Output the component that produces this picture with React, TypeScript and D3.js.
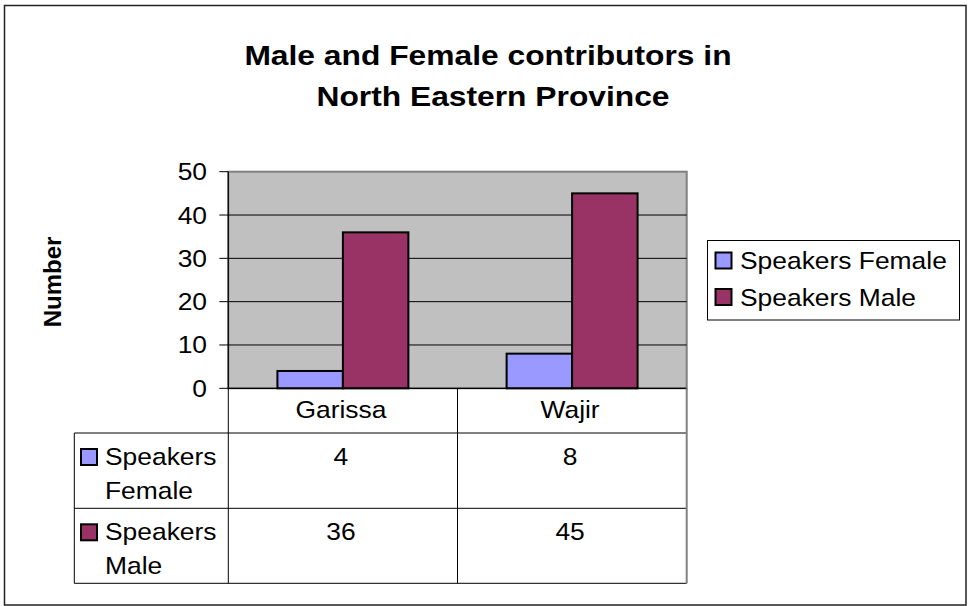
import React from "react";
import * as d3 from "d3";

const categories = ["Garissa", "Wajir"];
const seriesNames = ["Speakers Female", "Speakers Male"];
const seriesTableLines = [["Speakers", "Female"], ["Speakers", "Male"]];
const femaleValues = [4, 8];
const maleValues = [36, 45];
const seriesColors = ["#9999FF", "#993366"];
const yTicks = [0, 10, 20, 30, 40, 50];
const titleLines = ["Male and Female contributors in", "North Eastern Province"];
const yAxisTitle = "Number";

const W = 968;
const H = 606;
const FONT = "'Liberation Sans', Arial, Helvetica, sans-serif";
const SX = 1.1;

type TProps = {
  x: number;
  y: number;
  size: number;
  anchor?: "start" | "middle" | "end";
  bold?: boolean;
  sx?: number;
  children: React.ReactNode;
};

function T({ x, y, size, anchor = "start", bold = false, sx = SX, children }: TProps) {
  return (
    <text
      transform={`translate(${x},${y}) scale(${sx},1)`}
      textAnchor={anchor}
      fontSize={size}
      fontWeight={bold ? "bold" : "normal"}
      fill="#000"
    >
      {children}
    </text>
  );
}

export default function App() {
  const plotL = 228.3, plotR = 686.7, plotT = 171.7, plotB = 388.3;
  const x = d3.scaleBand<string>().domain(categories).range([plotL, plotR]).padding(0);
  const x1 = d3
    .scaleBand<string>()
    .domain(seriesNames)
    .range([0, x.bandwidth()])
    .paddingInner(0)
    .paddingOuter(0.75);
  const y = d3.scaleLinear().domain([0, 50]).range([plotB, plotT]);
  const seriesValues = [femaleValues, maleValues];

  const tableL = 74.3;
  const rowLines = [plotB, 433, 508.3, 583.3];

  return (
    <svg
      width={W}
      height={H}
      style={{ position: "absolute", left: 0, top: 0, background: "#fff" }}
      fontFamily={FONT}
    >
      <rect x={0} y={0} width={W} height={H} fill="#fff" />
      <rect x={4.5} y={5.5} width={961.5} height={599.5} fill="none" stroke="#222" strokeWidth={1.5} />

      {/* title */}
      <T x={488} y={65} size={28} bold anchor="middle" sx={1.135}>{titleLines[0]}</T>
      <T x={493} y={106} size={28} bold anchor="middle" sx={1.135}>{titleLines[1]}</T>

      {/* plot area */}
      <rect x={plotL} y={plotT} width={plotR - plotL} height={plotB - plotT} fill="#C0C0C0" stroke="#808080" strokeWidth={2} />
      {yTicks
        .filter((t) => t > 0 && t < 50)
        .map((t) => (
          <line key={t} x1={plotL} x2={plotR} y1={y(t)} y2={y(t)} stroke="#000" strokeWidth={1} />
        ))}

      {/* bars */}
      {categories.map((c, ci) =>
        seriesNames.map((s, si) => {
          const v = seriesValues[si][ci];
          const bx = (x(c) as number) + (x1(s) as number);
          return (
            <rect
              key={c + s}
              x={bx}
              y={y(v)}
              width={x1.bandwidth()}
              height={y(0) - y(v)}
              fill={seriesColors[si]}
              stroke="#000"
              strokeWidth={2}
            />
          );
        })
      )}

      {/* y axis */}
      <line x1={plotL} x2={plotL} y1={plotT} y2={plotB} stroke="#000" strokeWidth={1.2} />
      {yTicks.map((t) => (
        <g key={t}>
          <line x1={plotL - 9} x2={plotL} y1={y(t)} y2={y(t)} stroke="#000" strokeWidth={1} />
          <T x={207} y={y(t) + 8.5} size={24} anchor="end">{t}</T>
        </g>
      ))}
      <line x1={plotL} x2={plotR} y1={plotB} y2={plotB} stroke="#000" strokeWidth={1.2} />

      {/* y axis title */}
      <text
        transform={`translate(61,282) rotate(-90)`}
        textAnchor="middle"
        fontSize={24}
        fontWeight="bold"
        fill="#000"
      >
        {yAxisTitle}
      </text>

      {/* data table */}
      {rowLines.slice(1).map((ry, i) => (
        <line key={i} x1={tableL} x2={plotR} y1={ry} y2={ry} stroke="#000" strokeWidth={1} />
      ))}
      <line x1={tableL} x2={tableL} y1={rowLines[1]} y2={rowLines[3]} stroke="#000" strokeWidth={1} />
      {[plotL, ...categories.map((c) => (x(c) as number) + x.bandwidth())].map((vx, i) => (
        <line key={i} x1={vx} x2={vx} y1={plotB} y2={rowLines[3]} stroke={i === 2 ? "#808080" : "#000"} strokeWidth={i === 2 ? 2 : 1} />
      ))}
      {categories.map((c) => (
        <T key={c} x={(x(c) as number) + x.bandwidth() / 2 - 2} y={418} size={24} anchor="middle">{c}</T>
      ))}
      {seriesNames.map((s, si) => (
        <g key={s}>
          <rect x={81} y={rowLines[si + 1] + 16} width={16} height={16} fill={seriesColors[si]} stroke="#000" strokeWidth={2} />
          {seriesTableLines[si].map((ln, li) => (
            <T key={li} x={105} y={rowLines[si + 1] + 32 + li * 34} size={24}>{ln}</T>
          ))}
          {categories.map((c, ci) => (
            <T
              key={c}
              x={(x(c) as number) + x.bandwidth() / 2 - 2}
              y={rowLines[si + 1] + 31.5}
              size={24}
              anchor="middle"
            >
              {seriesValues[si][ci]}
            </T>
          ))}
        </g>
      ))}

      {/* legend */}
      <rect x={707.5} y={240.5} width={252} height={79.5} fill="#fff" stroke="#000" strokeWidth={1} />
      {seriesNames.map((s, si) => (
        <g key={s}>
          <rect x={715.5} y={252.5 + si * 36.5} width={16} height={16} fill={seriesColors[si]} stroke="#000" strokeWidth={2} />
          <T x={740} y={269 + si * 36.5} size={24}>{s}</T>
        </g>
      ))}
    </svg>
  );
}
